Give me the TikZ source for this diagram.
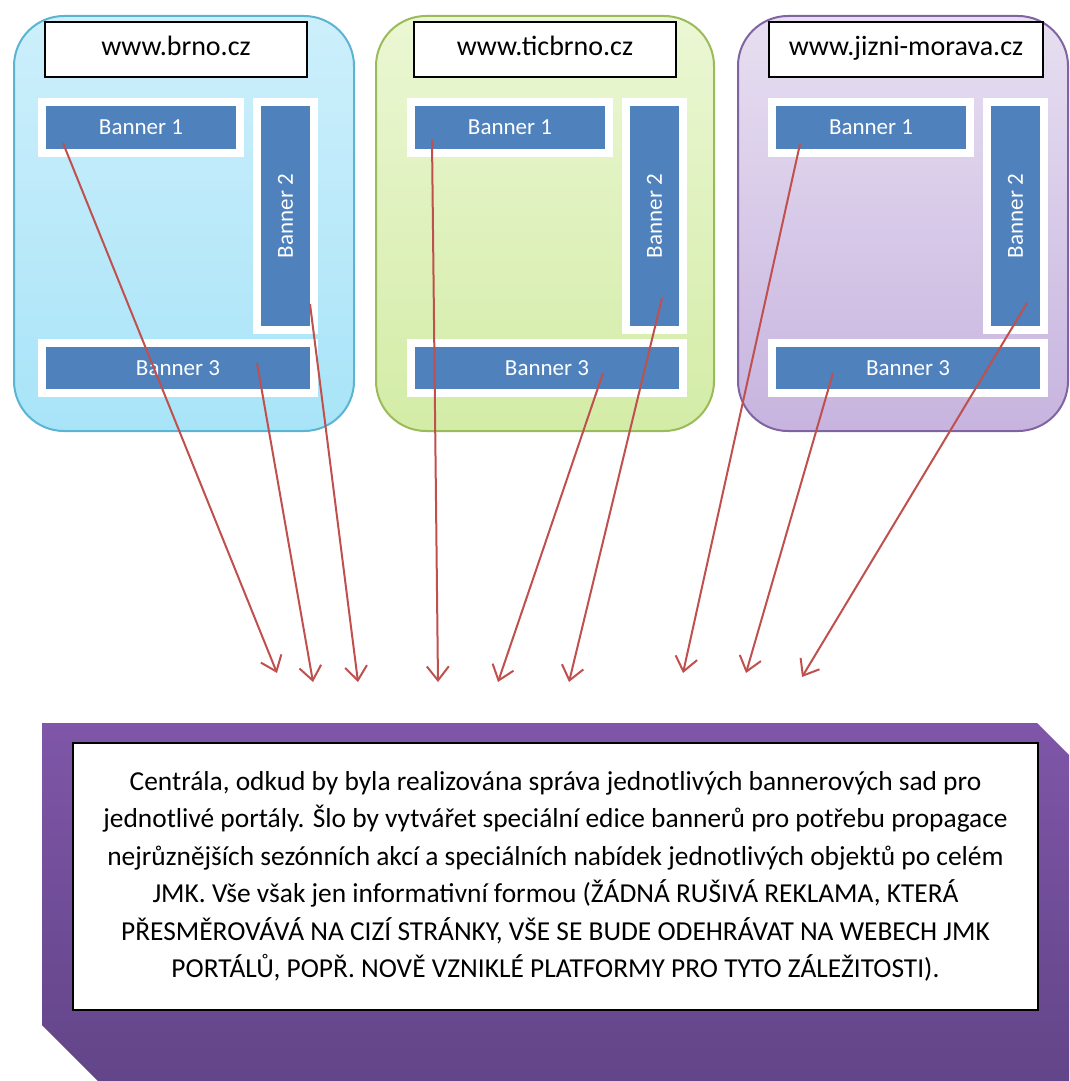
\documentclass[tikz,border=0pt]{standalone}
\usepackage{fontspec}
\setmainfont{Carlito}
\usetikzlibrary{arrows.meta}
\definecolor{bannerblue}{HTML}{4F81BD}
\definecolor{arrowred}{HTML}{C0504D}
\definecolor{edge1}{HTML}{5AB4D2}
\definecolor{top1}{HTML}{CDEFFB}
\definecolor{bot1}{HTML}{A8E4F8}
\definecolor{edge2}{HTML}{9BBB59}
\definecolor{top2}{HTML}{EBF7D4}
\definecolor{bot2}{HTML}{D3ECA6}
\definecolor{edge3}{HTML}{8064A2}
\definecolor{top3}{HTML}{E7DFF1}
\definecolor{bot3}{HTML}{C7B4DF}
\definecolor{centraltop}{HTML}{7F56A8}
\definecolor{centralbot}{HTML}{5E4283}
\tikzstyle{panel}=[rectangle,rounded corners=50pt,line width=2pt,anchor=north west,minimum height=415pt]
\tikzstyle{urlbox}=[rectangle,draw=black,fill=white,line width=1.5pt,minimum width=262pt,minimum height=55pt,inner xsep=20pt,text height=19pt,text depth=6pt,font=\fontsize{28}{32}\selectfont]
\tikzstyle{banner}=[rectangle,draw=white,fill=bannerblue,line width=8pt,text=white,inner sep=0pt,font=\fontsize{23}{26}\selectfont]
\tikzstyle{notebox}=[rectangle,draw=black,fill=white,line width=2pt,anchor=north west,minimum width=965pt,minimum height=267pt,align=center,font=\fontsize{27.4}{37.5}\selectfont]
\tikzstyle{link}=[draw=arrowred,line width=2pt,-{Straight Barb[length=14pt,width=22pt]}]

\begin{document}
\begin{tikzpicture}[x=1pt,y=-1pt]
    \useasboundingbox (0,0) rectangle (1069,1081);
    \clip (0,0) rectangle (1069,1081);
    % three portals
    \foreach \i/\px/\pw/\bx/\url in {1/13/340/6/www.brno.cz, 2/375/338/375/www.ticbrno.cz, 3/737/330/736/www.jizni-morava.cz} {
        \node[panel,minimum width=\pw pt,draw=edge\i,top color=top\i,bottom color=bot\i] (p\i) at (\px,15) {};
        \node[urlbox] (u\i) at (\bx+170,49.5) {\url};
        \node[banner,minimum width=198pt,minimum height=51pt] (b\i1) at (\bx+135,127.5) {Banner 1};
        \node[banner,minimum width=228pt,minimum height=57pt,rotate=90] (b\i2) at (\bx+279.5,216) {Banner 2};
        \node[banner,minimum width=272pt,minimum height=50pt] (b\i3) at (\bx+172,368) {Banner 3};
    };
    % where the arrows start and end
    \foreach \n/\x/\y in {s11/63/143, s13/257/363, s12/310/304, s21/432/140, s23/603/373, s22/662/298,
                          s31/800/144, s33/833/373, s32/1027/303,
                          e1/277/673, e2/313/682, e3/358/682, e4/438/682, e5/498/682, e6/569/682,
                          e7/683/673, e8/746/673, e9/802/677} {
        \coordinate (\n) at (\x,\y);
    };
    \foreach \s/\e in {s11/e1, s13/e2, s12/e3, s21/e4, s23/e5, s22/e6, s31/e7, s33/e8, s32/e9} {
        \draw[link] (\s) -- (\e);
    };
    % central
    \shade[top color=centraltop,bottom color=centralbot] (42,723) -- (1037,723) -- (1110,796) -- (1110,1140) -- (157,1140) -- (42,1025) -- cycle;
    \node[notebox] (central) at (72,742) {Centrála, odkud by byla realizována správa jednotlivých bannerových sad pro\\
        jednotlivé portály. Šlo by vytvářet speciální edice bannerů pro potřebu propagace\\
        nejrůznějších sezónních akcí a speciálních nabídek jednotlivých objektů po celém\\
        JMK. Vše však jen informativní formou (ŽÁDNÁ RUŠIVÁ REKLAMA, KTERÁ\\
        PŘESMĚROVÁVÁ NA CIZÍ STRÁNKY, VŠE SE BUDE ODEHRÁVAT NA WEBECH JMK\\
        PORTÁLŮ, POPŘ. NOVĚ VZNIKLÉ PLATFORMY PRO TYTO ZÁLEŽITOSTI).};
\end{tikzpicture}
\end{document}
